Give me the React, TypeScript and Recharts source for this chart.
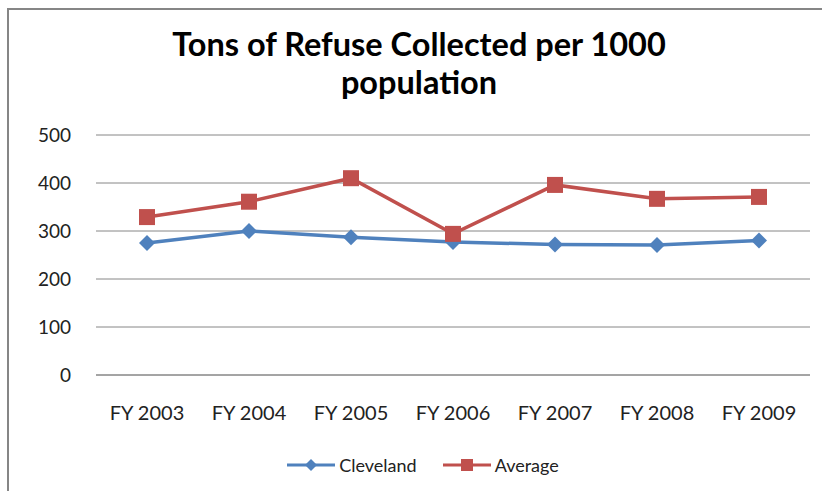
import React from 'react'
import { LineChart, Line, XAxis, YAxis, CartesianGrid, Legend } from 'recharts'

const years = ['FY 2003', 'FY 2004', 'FY 2005', 'FY 2006', 'FY 2007', 'FY 2008', 'FY 2009']
const cleveland = [275, 300, 287, 277, 272, 271, 280]
const average = [329, 361, 410, 294, 396, 367, 371]
const yTicks = [0, 100, 200, 300, 400, 500]

const BLUE = '#4F81BD'
const RED = '#C0504D'
const FONT = 'Lato, "Open Sans", sans-serif'

const data = years.map((year, i) => ({ year, Cleveland: cleveland[i], Average: average[i] }))

// eslint-disable-next-line @typescript-eslint/no-explicit-any
function Diamond({ cx, cy, fill }: any) {
  if (cx == null || cy == null) return null
  const r = 8
  return (
    <polygon
      points={`${cx},${cy - r} ${cx + r},${cy} ${cx},${cy + r} ${cx - r},${cy}`}
      fill={fill}
    />
  )
}

// eslint-disable-next-line @typescript-eslint/no-explicit-any
function Square({ cx, cy, fill }: any) {
  if (cx == null || cy == null) return null
  const s = 16
  return <rect x={cx - s / 2} y={cy - s / 2} width={s} height={s} fill={fill} />
}

function LegendContent() {
  const items = [
    { name: 'Cleveland', color: BLUE, marker: 'diamond' },
    { name: 'Average', color: RED, marker: 'square' },
  ]
  return (
    <div style={{ display: 'flex', justifyContent: 'center', gap: 26, fontFamily: FONT, fontSize: 18, color: '#222' }}>
      {items.map((it) => (
        <div key={it.name} style={{ display: 'flex', alignItems: 'center', gap: 4 }}>
          <svg width={48} height={14}>
            <line x1={0} y1={7} x2={48} y2={7} stroke={it.color} strokeWidth={3} />
            {it.marker === 'diamond' ? (
              <polygon points="24,1 30,7 24,13 18,7" fill={it.color} />
            ) : (
              <rect x={18} y={1} width={12} height={12} fill={it.color} />
            )}
          </svg>
          <span>{it.name}</span>
        </div>
      ))}
    </div>
  )
}

export default function App() {
  return (
    <div style={{ position: 'absolute', left: 0, top: 0, width: 822, height: 491, background: '#fff', overflow: 'hidden' }}>
      <div
        style={{
          position: 'absolute',
          left: 7,
          top: 8,
          width: 830,
          height: 500,
          borderLeft: '2px solid #868686',
          borderTop: '2px solid #868686',
        }}
      />
      <div
        style={{
          position: 'absolute',
          left: 0,
          top: 25,
          width: 838,
          textAlign: 'center',
          fontFamily: FONT,
          fontWeight: 700,
          fontSize: 32.5,
          lineHeight: '37.5px',
          color: '#000',
        }}
      >
        Tons of Refuse Collected per 1000
        <br />
        population
      </div>
      <LineChart width={822} height={491} data={data} margin={{ top: 135, right: 12, bottom: 0, left: 0 }}>
        <CartesianGrid vertical={false} stroke="#868686" strokeWidth={1} />
        <XAxis
          dataKey="year"
          height={116}
          padding={{ left: 51, right: 51 }}
          axisLine={{ stroke: '#868686' }}
          tickLine={false}
          tickSize={0}
          tickMargin={31}
          tick={{ fill: '#222', fontSize: 20, fontFamily: FONT }}
          interval={0}
        />
        <YAxis
          width={96}
          domain={[0, 500]}
          ticks={yTicks}
          axisLine={false}
          tickLine={false}
          tickSize={0}
          tickMargin={25}
          tick={{ fill: '#222', fontSize: 19, fontFamily: FONT }}
        />
        <Legend
          layout="horizontal"
          verticalAlign="middle"
          align="center"
          content={<LegendContent />}
          wrapperStyle={{ position: 'absolute', top: 454, left: 0, width: 846 }}
        />
        <Line
          dataKey="Cleveland"
          stroke={BLUE}
          strokeWidth={3.5}
          fill={BLUE}
          dot={<Diamond fill={BLUE} />}
          activeDot={false}
          isAnimationActive={false}
        />
        <Line
          dataKey="Average"
          stroke={RED}
          strokeWidth={3.5}
          fill={RED}
          dot={<Square fill={RED} />}
          activeDot={false}
          isAnimationActive={false}
        />
      </LineChart>
    </div>
  )
}
